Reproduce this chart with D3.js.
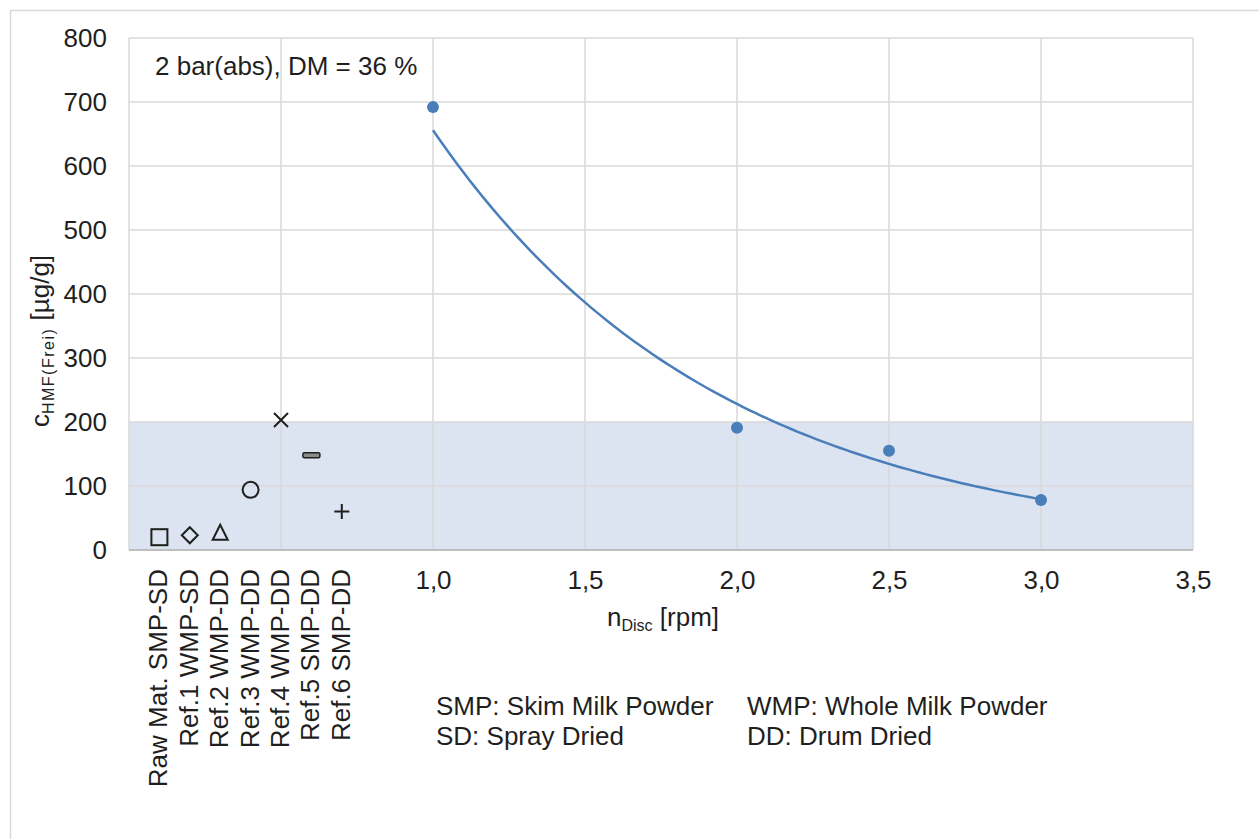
<!DOCTYPE html>
<html>
<head>
<meta charset="utf-8">
<script src="https://cdn.jsdelivr.net/npm/d3@7/dist/d3.min.js"></script>
<style>
  html, body { margin: 0; padding: 0; background: #fff; }
  svg { display: block; }
  svg text { font-family: "Liberation Sans", Arial, sans-serif; }
</style>
</head>
<body>
<svg id="chart" width="1259" height="839"></svg>
<script>
// Reference samples (left block, categorical positions on the x scale)
const refNames = ["Raw Mat. SMP-SD", "Ref.1 WMP-SD", "Ref.2 WMP-DD", "Ref.3 WMP-DD", "Ref.4 WMP-DD", "Ref.5 SMP-DD", "Ref.6 SMP-DD"];
const refPositions = [0.1, 0.2, 0.3, 0.4, 0.5, 0.6, 0.7];
const refValues = [20, 23, 27, 94, 203, 148, 60];
const refSymbols = ["square", "diamond", "triangle", "circle", "cross", "dash", "plus"];

// Measured free HMF vs. disc speed
const discSpeed = [1.0, 2.0, 2.5, 3.0];
const hmfValues = [692, 191, 155, 78];

// Axis ticks
const xGridTicks = [0, 0.5, 1.0, 1.5, 2.0, 2.5, 3.0, 3.5];
const xLabelTicks = [1.0, 1.5, 2.0, 2.5, 3.0, 3.5];
const yTicks = [0, 100, 200, 300, 400, 500, 600, 700, 800];
const bandLimit = 200;

const svg = d3.select("#chart");
const plot = { left: 129, right: 1193, top: 38, bottom: 550 };
const fs = 26;

const x = d3.scaleLinear().domain([0, 3.5]).range([plot.left, plot.right]);
const y = d3.scaleLinear().domain([0, 800]).range([plot.bottom, plot.top]);

const blue = "#4a7ebb";
const ink = "#1f1f1f";

// Outer chart frame
svg.append("rect")
  .attr("x", 10.5).attr("y", 10.5)
  .attr("width", 1300).attr("height", 900)
  .attr("fill", "none").attr("stroke", "#d9d9d9").attr("stroke-width", 1.5);

// Shaded band 0..200
svg.append("rect")
  .attr("x", x(0)).attr("y", y(bandLimit))
  .attr("width", x(3.5) - x(0)).attr("height", y(0) - y(bandLimit))
  .attr("fill", "#dbe4f0");

// Gridlines
const grid = svg.append("g").attr("stroke", "#d9d9d9").attr("stroke-width", 1.5);
grid.selectAll("line.h").data(yTicks.filter(d => d > 0)).join("line")
  .attr("x1", x(0)).attr("x2", x(3.5))
  .attr("y1", d => y(d)).attr("y2", d => y(d));
grid.selectAll("line.v").data(xGridTicks).join("line")
  .attr("x1", d => x(d)).attr("x2", d => x(d))
  .attr("y1", y(800)).attr("y2", y(0));

// Horizontal axis line
svg.append("line")
  .attr("x1", x(0)).attr("x2", x(3.5))
  .attr("y1", y(0)).attr("y2", y(0))
  .attr("stroke", "#bfbfbf").attr("stroke-width", 2);

// Y axis labels
const yAxis = d3.axisLeft(y).tickValues(yTicks).tickSize(0).tickPadding(22);
svg.append("g").attr("transform", `translate(${plot.left},0)`).call(yAxis)
  .call(g => g.select(".domain").remove())
  .call(g => g.selectAll("text").attr("font-size", fs).attr("fill", ink)
    .attr("font-family", "Liberation Sans, Arial, sans-serif"));

// X axis labels (numeric part only)
const xAxis = d3.axisBottom(x).tickValues(xLabelTicks).tickSize(0).tickPadding(21)
  .tickFormat(d => d3.format(".1f")(d).replace(".", ","));
svg.append("g").attr("transform", `translate(0,${plot.bottom})`).call(xAxis)
  .call(g => g.select(".domain").remove())
  .call(g => g.selectAll("text").attr("font-size", fs).attr("fill", ink)
    .attr("font-family", "Liberation Sans, Arial, sans-serif"));

// Category labels for the reference samples, rotated
svg.append("g").selectAll("text").data(refNames).join("text")
  .attr("transform", (d, i) => `translate(${x(refPositions[i]) + 8},569) rotate(-90)`)
  .attr("text-anchor", "end")
  .attr("font-size", fs).attr("fill", ink)
  .text(d => d);

// Exponential trendline fitted (least squares on ln y)
const lnY = hmfValues.map(Math.log);
const mx = d3.mean(discSpeed), my = d3.mean(lnY);
const b = d3.sum(discSpeed, (d, i) => (d - mx) * (lnY[i] - my)) / d3.sum(discSpeed, d => (d - mx) ** 2);
const a = Math.exp(my - b * mx);
const trendX = d3.range(0, 101).map(i => discSpeed[0] + (discSpeed[discSpeed.length - 1] - discSpeed[0]) * i / 100);
svg.append("path")
  .datum(trendX)
  .attr("fill", "none").attr("stroke", blue).attr("stroke-width", 2.5)
  .attr("d", d3.line().x(d => x(d)).y(d => y(a * Math.exp(b * d))));

// Measured points
svg.append("g").selectAll("circle").data(discSpeed).join("circle")
  .attr("cx", d => x(d)).attr("cy", (d, i) => y(hmfValues[i]))
  .attr("r", 6).attr("fill", blue);

// Reference sample markers
const markers = svg.append("g").attr("fill", "none").attr("stroke", ink).attr("stroke-width", 2);
refValues.forEach((v, i) => {
  const cx = x(refPositions[i]), cy = y(v);
  const g = markers.append("g").attr("transform", `translate(${cx},${cy})`);
  switch (refSymbols[i]) {
    case "square":
      g.append("rect").attr("x", -8).attr("y", -8).attr("width", 16).attr("height", 16); break;
    case "diamond":
      g.append("path").attr("d", "M0,-8L8,0L0,8L-8,0Z"); break;
    case "triangle":
      g.append("path").attr("d", "M0,-8L7.5,7L-7.5,7Z"); break;
    case "circle":
      g.append("circle").attr("r", 8); break;
    case "cross":
      g.append("path").attr("d", "M-7,-7L7,7M7,-7L-7,7"); break;
    case "dash":
      g.append("rect").attr("x", -8.5).attr("y", -2.5).attr("width", 17).attr("height", 5)
        .attr("rx", 1.5).attr("fill", "#8c8c8c").attr("stroke-width", 1.5); break;
    case "plus":
      g.append("path").attr("d", "M-7.5,0L7.5,0M0,-7.5L0,7.5"); break;
  }
});

// Y axis title with subscript
const yTitle = svg.append("text")
  .attr("transform", "translate(49,341) rotate(-90)")
  .attr("text-anchor", "middle").attr("font-size", fs).attr("fill", ink);
yTitle.append("tspan").text("c");
yTitle.append("tspan").attr("font-size", 16).attr("dy", 5).attr("letter-spacing", 1.5).text("HMF(Frei)");
yTitle.append("tspan").attr("dy", -5).text(" [µg/g]");

// X axis title with subscript
const xTitle = svg.append("text")
  .attr("x", (plot.left + plot.right) / 2 + 2).attr("y", 626)
  .attr("text-anchor", "middle").attr("font-size", fs).attr("fill", ink);
xTitle.append("tspan").text("n");
xTitle.append("tspan").attr("font-size", 16).attr("dy", 5).text("Disc");
xTitle.append("tspan").attr("dy", -5).text(" [rpm]");

// Condition annotation
svg.append("text").attr("x", 155).attr("y", 75)
  .attr("font-size", fs).attr("fill", ink).text("2 bar(abs), DM = 36 %");

// Abbreviation key
const keyLines = [
  ["SMP: Skim Milk Powder", 436, 715],
  ["WMP: Whole Milk Powder", 747, 715],
  ["SD: Spray Dried", 436, 745],
  ["DD: Drum Dried", 747, 745]
];
svg.append("g").selectAll("text").data(keyLines).join("text")
  .attr("x", d => d[1]).attr("y", d => d[2])
  .attr("font-size", fs).attr("fill", ink).text(d => d[0]);
</script>
</body>
</html>
